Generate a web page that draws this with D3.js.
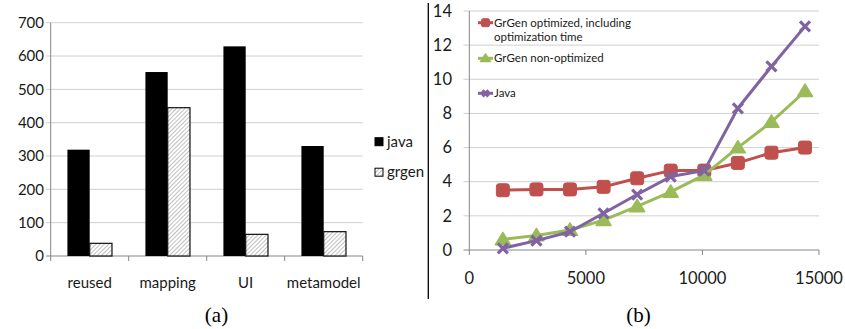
<!DOCTYPE html>
<html><head><meta charset="utf-8">
<script src="https://cdn.jsdelivr.net/npm/d3@7"></script>
<style>body{margin:0;background:#fff}svg{display:block}</style>
</head><body>
<svg id="c" width="845" height="329"></svg>
<script>
// ---- data (a) ----
const categories = ["reused", "mapping", "UI", "metamodel"];
const seriesA = ["java", "grgen"];
const javaVals = [319, 552, 629, 330];
const grgenVals = [38, 445, 65, 73];
const yTicksA = [0, 100, 200, 300, 400, 500, 600, 700];
// ---- data (b) ----
const sizes = [1440, 2880, 4320, 5760, 7200, 8640, 10080, 11520, 12960, 14400];
const grgenOpt = [3.5, 3.55, 3.55, 3.7, 4.2, 4.65, 4.65, 5.1, 5.7, 6.0];
const grgenNonOpt = [0.62, 0.85, 1.17, 1.75, 2.55, 3.4, 4.4, 6.0, 7.5, 9.3];
const javaTimes = [0.1, 0.55, 1.07, 2.15, 3.25, 4.3, 4.65, 8.3, 10.75, 13.1];
const yTicksB = [0, 2, 4, 6, 8, 10, 12, 14];
const xTicksB = [0, 5000, 10000, 15000];
const legendB = [["GrGen optimized, including", "optimization time"], ["GrGen non-optimized"], ["Java"]];
const captions = ["(a)", "(b)"];

const svg = d3.select("#c");
const FONT = "Lato, 'Open Sans', sans-serif";
const defs = svg.append("defs");
const pat = defs.append("pattern").attr("id", "hatch").attr("patternUnits", "userSpaceOnUse")
  .attr("width", 3).attr("height", 3).attr("patternTransform", "rotate(45)");
pat.append("rect").attr("width", 3).attr("height", 3).attr("fill", "#fff");
pat.append("line").attr("x1", 0).attr("y1", 0).attr("x2", 0).attr("y2", 3).attr("stroke", "#8a8a8a").attr("stroke-width", 1.1);

// ================= chart (a) =================
const xA = d3.scaleBand().domain(categories).range([50.7, 362.7]);
const xSub = d3.scaleBand().domain(seriesA).range([0, xA.bandwidth()]).paddingOuter(0.75);
const yA = d3.scaleLinear().domain([0, 700]).range([256, 22.7]);
const gA = svg.append("g");
gA.selectAll("line.grid").data(yTicksA).join("line")
  .attr("x1", 46).attr("x2", 362.7).attr("y1", d => yA(d)).attr("y2", d => yA(d))
  .attr("stroke", d => d === 0 ? "#868686" : "#d0d0d0").attr("stroke-width", 1);
gA.append("line").attr("x1", 50.7).attr("x2", 50.7).attr("y1", yA(700)).attr("y2", yA(0)).attr("stroke", "#868686");
gA.selectAll("line.xt").data(d3.range(categories.length + 1)).join("line")
  .attr("x1", i => 50.7 + i * xA.step()).attr("x2", i => 50.7 + i * xA.step())
  .attr("y1", 256).attr("y2", 261).attr("stroke", "#868686");
gA.selectAll("text.yl").data(yTicksA).join("text")
  .attr("x", 44).attr("y", d => yA(d)).attr("dy", "0.35em").attr("text-anchor", "end")
  .attr("font-family", FONT).attr("font-size", 15).attr("fill", "#1a1a1a").text(d => d);
gA.selectAll("text.xl").data(categories).join("text")
  .attr("x", d => xA(d) + xA.bandwidth() / 2).attr("y", 283).attr("dy", "0.35em").attr("text-anchor", "middle")
  .attr("font-family", FONT).attr("font-size", 15).attr("fill", "#1a1a1a").text(d => d);
const valsA = {java: javaVals, grgen: grgenVals};
seriesA.forEach(s => {
  gA.selectAll("rect." + s).data(categories).join("rect")
    .attr("x", d => xA(d) + xSub(s)).attr("width", xSub.bandwidth())
    .attr("y", (d, i) => yA(valsA[s][i])).attr("height", (d, i) => yA(0) - yA(valsA[s][i]))
    .attr("fill", s === "java" ? "#000" : "url(#hatch)")
    .attr("stroke", s === "java" ? "#000" : "#111").attr("stroke-width", s === "java" ? 0 : 1.2);
});
// legend (a)
const legA = gA.append("g");
seriesA.forEach((s, i) => {
  const y = 141.7 + i * 30.5;
  legA.append("rect").attr("x", 375).attr("y", y - 4).attr("width", 8).attr("height", 8)
    .attr("fill", s === "java" ? "#000" : "url(#hatch)").attr("stroke", "#000").attr("stroke-width", 1);
  legA.append("text").attr("x", 387).attr("y", y).attr("dy", "0.35em")
    .attr("font-family", FONT).attr("font-size", 15).attr("fill", "#1a1a1a").text(s);
});

// separator
svg.append("line").attr("x1", 428.3).attr("x2", 428.3).attr("y1", 3).attr("y2", 299).attr("stroke", "#000").attr("stroke-width", 1.3);

// ================= chart (b) =================
const xB = d3.scaleLinear().domain([0, 15000]).range([469.3, 819]);
const yB = d3.scaleLinear().domain([0, 14]).range([250, 11]);
const gB = svg.append("g");
gB.selectAll("line.grid").data(yTicksB).join("line")
  .attr("x1", 463.5).attr("x2", 819).attr("y1", d => yB(d)).attr("y2", d => yB(d))
  .attr("stroke", d => d === 0 ? "#868686" : "#d0d0d0");
gB.append("line").attr("x1", 469.3).attr("x2", 469.3).attr("y1", yB(14)).attr("y2", yB(0)).attr("stroke", "#868686");
gB.selectAll("line.xt").data(xTicksB).join("line")
  .attr("x1", d => xB(d)).attr("x2", d => xB(d)).attr("y1", 250).attr("y2", 255).attr("stroke", "#868686");
gB.selectAll("text.yl").data(yTicksB).join("text")
  .attr("x", 452).attr("y", d => yB(d)).attr("dy", "0.35em").attr("text-anchor", "end")
  .attr("font-family", FONT).attr("font-size", 16.5).attr("fill", "#1a1a1a").text(d => d);
gB.selectAll("text.xl").data(xTicksB).join("text")
  .attr("x", d => xB(d)).attr("y", 278).attr("dy", "0.35em").attr("text-anchor", "middle")
  .attr("font-family", FONT).attr("font-size", 16.5).attr("fill", "#1a1a1a").text(d => d);

const seriesB = [
  {vals: grgenOpt, color: "#C0504D", shape: "square"},
  {vals: grgenNonOpt, color: "#9BBB59", shape: "triangle"},
  {vals: javaTimes, color: "#8064A2", shape: "x"}
];
function marker(g, shape, color, x, y, s) {
  if (shape === "square") {
    g.append("rect").attr("x", x - s / 2).attr("y", y - s / 2).attr("width", s).attr("height", s)
      .attr("rx", s * 0.2).attr("fill", color).attr("stroke", color).attr("stroke-width", 1);
  } else if (shape === "triangle") {
    const h = s * 0.9;
    g.append("path").attr("d", `M${x},${y - h * 0.6}L${x + s / 2 + 1},${y + h * 0.45}L${x - s / 2 - 1},${y + h * 0.45}Z`)
      .attr("fill", color).attr("stroke", color).attr("stroke-width", 1.5).attr("stroke-linejoin", "round");
  } else {
    const r = s / 2;
    g.append("path").attr("d", `M${x - r},${y - r}L${x + r},${y + r}M${x - r},${y + r}L${x + r},${y - r}`)
      .attr("stroke", color).attr("stroke-width", 3.2).attr("fill", "none");
  }
}
const line = d3.line().x((d, i) => xB(sizes[i])).y(d => yB(d));
seriesB.forEach(s => {
  gB.append("path").attr("d", line(s.vals)).attr("fill", "none").attr("stroke", s.color)
    .attr("stroke-width", 3).attr("stroke-linejoin", "round");
  s.vals.forEach((v, i) => marker(gB, s.shape, s.color, xB(sizes[i]), yB(v), s.shape === "x" ? 10 : 13));
});
// legend (b)
const legY = [22.7, 58.3, 93.3];
seriesB.forEach((s, i) => {
  const lg = gB.append("g");
  lg.append("line").attr("x1", 478).attr("x2", 493).attr("y1", legY[i]).attr("y2", legY[i])
    .attr("stroke", s.color).attr("stroke-width", 3);
  marker(lg, s.shape, s.color, 485.5, legY[i], s.shape === "x" ? 6 : 8);
  legendB[i].forEach((t, j) => {
    lg.append("text").attr("x", 494).attr("y", legY[i] + j * 14).attr("dy", "0.35em")
      .attr("font-family", FONT).attr("font-size", 11.5).attr("fill", "#1a1a1a").text(t);
  });
});

// captions
svg.selectAll("text.cap").data(captions).join("text")
  .attr("x", (d, i) => i === 0 ? 216.5 : 638.5).attr("y", 315).attr("dy", "0.35em").attr("text-anchor", "middle")
  .attr("font-family", "'Liberation Serif', serif").attr("font-size", 21).attr("fill", "#000").text(d => d);
</script>
</body></html>
